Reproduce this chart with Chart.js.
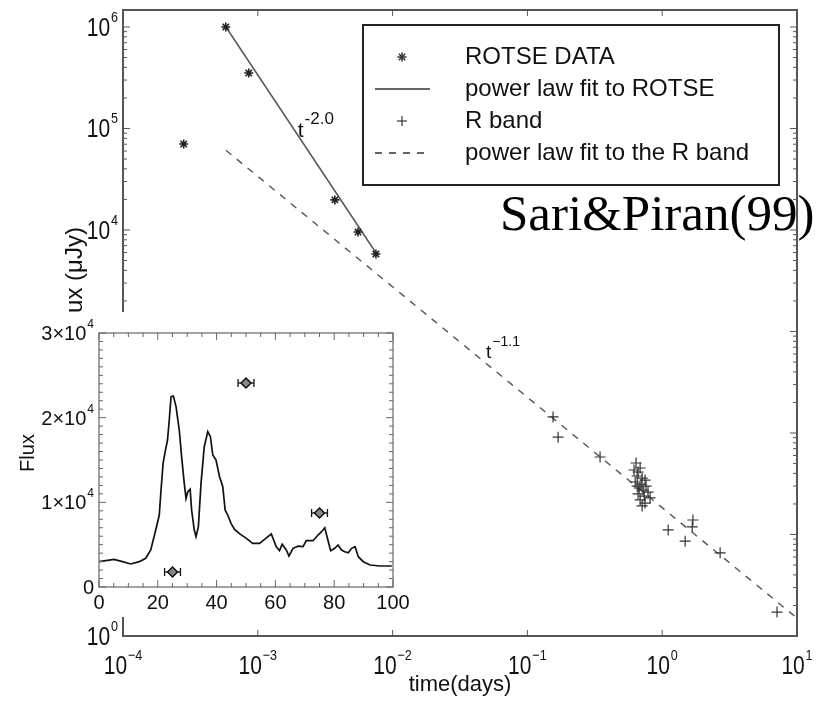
<!DOCTYPE html>
<html>
<head>
<meta charset="utf-8">
<script src="https://cdn.jsdelivr.net/npm/chart.js@4.4.1/dist/chart.umd.min.js"></script>
<style>
  html, body { margin: 0; padding: 0; background: #fff; }
  #wrap { position: relative; width: 828px; height: 710px; }
  #main { position: absolute; left: 0; top: 0; }
  #inset { position: absolute; left: 0; top: 312px; background: #fff; }
</style>
</head>
<body>
<div id="wrap">
  <canvas id="main" width="828" height="710"></canvas>
  <canvas id="inset" width="420" height="305"></canvas>
</div>
<script>
"use strict";

// ---- main plot data (log-log) ----
const seriesLabels = ["ROTSE DATA", "power law fit to ROTSE", "R band", "power law fit to the R band"];

const rotseTime = [2.82e-4, 5.79e-4, 8.57e-4, 3.73e-3, 5.54e-3, 7.52e-3];
const rotseFlux = [7.03e4, 1.0e6, 3.52e5, 1.98e4, 9.55e3, 5.8e3];

const rotseFitTime = [5.8e-4, 7.5e-3];
const rotseFitFlux = [1.0e6, 6.0e3];

const rBandTime = [0.155, 0.169, 0.346,
  0.640, 0.618, 0.662, 0.686, 0.652, 0.710, 0.630, 0.697, 0.746, 0.675,
  0.721, 0.759, 0.662, 0.735, 0.785, 0.686, 0.746, 0.710, 0.813, 0.652,
  1.107, 1.48, 1.69, 1.67, 2.69, 7.11];
const rBandFlux = [144, 91, 58,
  50.6, 43.2, 41.3, 45.2, 37.7, 36.0, 32.9, 31.4, 34.4, 28.7,
  27.4, 30.0, 25.1, 23.9, 26.2, 21.9, 20.4, 19.1, 22.9, 30.0,
  11.1, 8.6, 13.9, 11.9, 6.6, 1.72];

const rFitTime = [5.8e-4, 10];
const rFitFlux = [6.1e4, 1.5];

const xTickExps = [-4, -3, -2, -1, 0, 1];
const yTickExps = [0, 1, 2, 3, 4, 5, 6];

// slope annotations
const noteBase = ["t", "t"];
const noteExp = ["-2.0", "\u22121.1"];
const noteTime = [1.98e-3, 0.0493];
const noteFlux = [8.25e4, 548];

// ---- inset data (linear) ----
const lcTime = [0, 5.1, 8.0, 10.8, 13.7, 15.9, 17.6, 19.3, 20.5, 21.1, 21.8, 22.4, 23.3, 23.9,
  24.5, 25.3, 26.2, 27.3, 28.1, 29.0, 29.6, 30.2, 31.0, 31.5, 32.4, 33.0, 33.8, 34.7, 35.8,
  37.0, 37.9, 38.7, 39.8, 41.0, 42.1, 42.9, 43.8, 44.9, 46.1, 47.8, 50.1, 52.3, 54.6, 56.3,
  58.6, 60.3, 61.4, 62.3, 63.7, 64.6, 66.0, 67.7, 69.4, 70.5, 72.8, 74.5, 75.7, 76.8, 78.0,
  78.8, 80.2, 81.3, 82.5, 83.6, 84.8, 85.9, 87.1, 88.2, 89.9, 92.2, 95.6, 99.6];
const lcFlux = [2990, 3270, 2990, 2720, 2990, 3390, 4370, 6730, 8500, 11460, 14600, 15790, 17360, 19720,
  22480, 22560, 21300, 18540, 15390, 12240, 10470, 11260, 11540, 9090, 6730, 5940, 7120, 12240, 16570,
  18350, 17750, 15590, 15000, 13030, 11850, 9090, 8500, 7520, 6810, 6300, 5750, 5160, 5160, 5630,
  6260, 4760, 4290, 5040, 4370, 3660, 4570, 4830, 4760, 5470, 5470, 6140, 6530, 7000, 5350,
  4290, 4570, 4960, 4370, 4170, 4050, 4570, 4760, 3580, 2990, 2600, 2480, 2480];

const optTime = [25, 50, 75];
const optFlux = [1770, 24100, 8740];
const optTimeErr = [2.7, 2.7, 2.7];

const insetXTicks = [0, 20, 40, 60, 80, 100];
const insetYTicks = [0, 10000, 20000, 30000];
const insetYBase = ["0", "1\u00d710", "2\u00d710", "3\u00d710"];
const insetYExp = ["", "4", "4", "4"];

const FONT = "'Liberation Sans', Arial, Helvetica, sans-serif";
const INK = "#111";

function pts(xs, ys) {
  return xs.map((v, i) => ({ x: v, y: ys[i] }));
}

function line(ctx, x1, y1, x2, y2) {
  ctx.beginPath();
  ctx.moveTo(x1, y1);
  ctx.lineTo(x2, y2);
  ctx.stroke();
}

// text with a superscript, y is the baseline of the base text
// sx squeezes the glyphs horizontally (the original labels are condensed)
function supText(ctx, base, exp, x, y, o) {
  const sx = o.sx || 1;
  ctx.font = o.size + "px " + FONT;
  const wb = ctx.measureText(base).width * sx;
  ctx.font = o.expSize + "px " + FONT;
  const we = exp ? (ctx.measureText(exp).width + 1) * sx : 0;
  const w = wb + we;
  let x0 = x;
  if (o.align === "right") x0 = x - w;
  if (o.align === "center") x0 = x - w / 2;
  ctx.save();
  ctx.textAlign = "left";
  ctx.textBaseline = "alphabetic";
  ctx.translate(x0, y);
  ctx.scale(sx, 1);
  ctx.font = o.size + "px " + FONT;
  ctx.fillText(base, 0, 0);
  if (exp) {
    ctx.font = o.expSize + "px " + FONT;
    ctx.fillText(exp, wb / sx + 1, -o.rise);
  }
  ctx.restore();
}

function expLabel(e) {
  return e < 0 ? "\u2212" + (-e) : String(e);
}

const mainDecor = {
  id: "mainDecor",
  afterDraw(chart) {
    const { ctx, chartArea: a } = chart;
    const x = chart.scales.x;
    const y = chart.scales.y;
    ctx.save();

    // caption (frame is drawn over it, like the original)
    ctx.fillStyle = "#000";
    ctx.font = "51px 'Liberation Serif', 'Times New Roman', serif";
    ctx.textAlign = "left";
    ctx.textBaseline = "alphabetic";
    ctx.fillText("Sari&Piran(99)", 500, 230);

    // inward ticks
    ctx.strokeStyle = "#555";
    ctx.lineWidth = 1;
    xTickExps.forEach((e) => {
      const px = x.getPixelForValue(Math.pow(10, e));
      line(ctx, px, a.bottom, px, a.bottom - 6);
      line(ctx, px, a.top, px, a.top + 6);
    });
    yTickExps.forEach((e) => {
      for (let k = 1; k < 10; k++) {
        const v = k * Math.pow(10, e);
        if (v > y.max) break;
        const py = y.getPixelForValue(v);
        const len = k === 1 ? 7 : 4;
        line(ctx, a.left, py, a.left + len, py);
        line(ctx, a.right, py, a.right - len, py);
      }
    });

    // frame
    ctx.lineWidth = 2;
    ctx.strokeRect(a.left, a.top, a.right - a.left, a.bottom - a.top);

    // tick labels
    ctx.fillStyle = INK;
    const lab = { size: 25, expSize: 15, rise: 14, sx: 0.84 };
    xTickExps.forEach((e) => {
      const px = x.getPixelForValue(Math.pow(10, e));
      supText(ctx, "10", expLabel(e), px, a.bottom + 38, Object.assign({ align: "center" }, lab));
    });
    yTickExps.forEach((e) => {
      const py = y.getPixelForValue(Math.pow(10, e));
      supText(ctx, "10", expLabel(e), a.left - 5, py + 9, Object.assign({ align: "right" }, lab));
    });

    // y title
    ctx.save();
    ctx.translate(75, 280);
    ctx.rotate(-Math.PI / 2);
    ctx.font = "24px " + FONT;
    ctx.textAlign = "center";
    ctx.textBaseline = "middle";
    ctx.fillText("Flux (\u03bcJy)", 0, 0);
    ctx.restore();

    // slope notes
    noteBase.forEach((b, i) => {
      const px = x.getPixelForValue(noteTime[i]);
      const py = y.getPixelForValue(noteFlux[i]);
      const big = i === 0;
      supText(ctx, b, noteExp[i], px, py, { size: big ? 21 : 19, expSize: big ? 17 : 14, rise: big ? 13 : 12, align: "left" });
    });

    // legend
    const lg = { left: 363, top: 25, right: 779, bottom: 185 };
    ctx.strokeStyle = "#222";
    ctx.lineWidth = 2;
    ctx.strokeRect(lg.left, lg.top, lg.right - lg.left, lg.bottom - lg.top);
    const rows = [57, 89, 121, 153];
    const mx = 402;
    ctx.strokeStyle = "#333";
    ctx.lineWidth = 1.5;
    // asterisk
    for (let k = 0; k < 4; k++) {
      const ang = k * Math.PI / 4;
      const dx = Math.cos(ang) * 4.5, dy = Math.sin(ang) * 4.5;
      line(ctx, mx - dx, rows[0] - dy, mx + dx, rows[0] + dy);
    }
    line(ctx, 375, rows[1], 430, rows[1]);
    ctx.lineWidth = 1.2;
    line(ctx, mx - 5, rows[2], mx + 5, rows[2]);
    line(ctx, mx, rows[2] - 5, mx, rows[2] + 5);
    ctx.lineWidth = 1.5;
    ctx.setLineDash([7, 7]);
    line(ctx, 375, rows[3], 430, rows[3]);
    ctx.setLineDash([]);
    ctx.fillStyle = INK;
    ctx.font = "24px " + FONT;
    ctx.textAlign = "left";
    ctx.textBaseline = "middle";
    seriesLabels.forEach((t, i) => ctx.fillText(t, 465, rows[i]));

    ctx.restore();
  }
};

new Chart(document.getElementById("main"), {
  type: "scatter",
  data: {
    datasets: [
      {
        label: seriesLabels[0],
        data: pts(rotseTime, rotseFlux),
        pointStyle: "star",
        pointRadius: 4.5,
        borderColor: "#222",
        borderWidth: 1.6
      },
      {
        label: seriesLabels[1],
        data: pts(rotseFitTime, rotseFitFlux),
        showLine: true,
        pointRadius: 0,
        borderColor: "#555",
        borderWidth: 1.5
      },
      {
        label: seriesLabels[2],
        data: pts(rBandTime, rBandFlux),
        pointStyle: "cross",
        pointRadius: 5.5,
        borderColor: "#333",
        borderWidth: 1.2
      },
      {
        label: seriesLabels[3],
        data: pts(rFitTime, rFitFlux),
        showLine: true,
        pointRadius: 0,
        borderColor: "#555",
        borderWidth: 1.4,
        borderDash: [7, 7]
      }
    ]
  },
  options: {
    responsive: false,
    animation: false,
    layout: { padding: { left: 0, top: 10, right: 31, bottom: 0 } },
    plugins: { legend: { display: false }, tooltip: { enabled: false } },
    scales: {
      x: {
        type: "logarithmic",
        min: 1e-4,
        max: 10,
        bounds: "data",
        grid: { display: false },
        border: { display: false },
        ticks: { display: false },
        title: {
          display: true,
          text: "time(days)",
          color: INK,
          font: { family: FONT, size: 22 },
          padding: { top: 0, bottom: 12 }
        },
        afterFit: (s) => { s.height = 74; }
      },
      y: {
        type: "logarithmic",
        min: 1,
        max: 1.47e6,
        bounds: "data",
        grid: { display: false },
        border: { display: false },
        ticks: { display: false },
        afterFit: (s) => { s.width = 123; }
      }
    }
  },
  plugins: [mainDecor]
});

const insetDecor = {
  id: "insetDecor",
  beforeDatasetsDraw(chart) {
    const { ctx } = chart;
    const x = chart.scales.x;
    const y = chart.scales.y;
    ctx.save();
    ctx.strokeStyle = "#111";
    ctx.lineWidth = 1.3;
    optTime.forEach((t, i) => {
      const x1 = x.getPixelForValue(t - optTimeErr[i]);
      const x2 = x.getPixelForValue(t + optTimeErr[i]);
      const py = y.getPixelForValue(optFlux[i]);
      line(ctx, x1, py, x2, py);
      line(ctx, x1, py - 4, x1, py + 4);
      line(ctx, x2, py - 4, x2, py + 4);
    });
    ctx.restore();
  },
  afterDraw(chart) {
    const { ctx, chartArea: a } = chart;
    const x = chart.scales.x;
    const y = chart.scales.y;
    ctx.save();
    ctx.strokeStyle = "#666";
    ctx.lineWidth = 1;
    for (let v = 0; v <= 100; v += 5) {
      const px = x.getPixelForValue(v);
      const len = v % 20 === 0 ? 7 : 4;
      line(ctx, px, a.bottom, px, a.bottom - len);
      line(ctx, px, a.top, px, a.top + len);
    }
    for (let v = 0; v <= 30000; v += 1000) {
      const py = y.getPixelForValue(v);
      const len = v % 10000 === 0 ? 7 : 4;
      line(ctx, a.left, py, a.left + len, py);
      line(ctx, a.right, py, a.right - len, py);
    }
    ctx.lineWidth = 1.2;
    ctx.strokeRect(a.left, a.top, a.right - a.left, a.bottom - a.top);

    ctx.fillStyle = INK;
    insetXTicks.forEach((v) => {
      supText(ctx, String(v), "", x.getPixelForValue(v), a.bottom + 22, { size: 20, expSize: 12, rise: 0, align: "center" });
    });
    insetYTicks.forEach((v, i) => {
      supText(ctx, insetYBase[i], insetYExp[i], a.left - 5, y.getPixelForValue(v) + 7, { size: 20, expSize: 12, rise: 12, align: "right" });
    });

    ctx.save();
    ctx.translate(28, 141);
    ctx.rotate(-Math.PI / 2);
    ctx.font = "20px " + FONT;
    ctx.textAlign = "center";
    ctx.textBaseline = "middle";
    ctx.fillText("Flux", 0, 0);
    ctx.restore();
    ctx.restore();
  }
};

new Chart(document.getElementById("inset"), {
  type: "scatter",
  data: {
    datasets: [
      {
        label: "optical",
        data: pts(optTime, optFlux),
        pointStyle: "rectRot",
        pointRadius: 5,
        backgroundColor: "#888",
        borderColor: "#111",
        borderWidth: 1.5
      },
      {
        label: "gamma",
        data: pts(lcTime, lcFlux),
        showLine: true,
        pointRadius: 0,
        borderColor: "#111",
        borderWidth: 1.7
      }
    ]
  },
  options: {
    responsive: false,
    animation: false,
    layout: { padding: { left: 0, top: 21, right: 27, bottom: 0 } },
    plugins: { legend: { display: false }, tooltip: { enabled: false } },
    scales: {
      x: {
        type: "linear",
        min: 0,
        max: 100,
        grid: { display: false },
        border: { display: false },
        ticks: { display: false },
        afterFit: (s) => { s.height = 30; }
      },
      y: {
        type: "linear",
        min: 0,
        max: 30000,
        grid: { display: false },
        border: { display: false },
        ticks: { display: false },
        afterFit: (s) => { s.width = 99; }
      }
    }
  },
  plugins: [insetDecor]
});
</script>
</body>
</html>
